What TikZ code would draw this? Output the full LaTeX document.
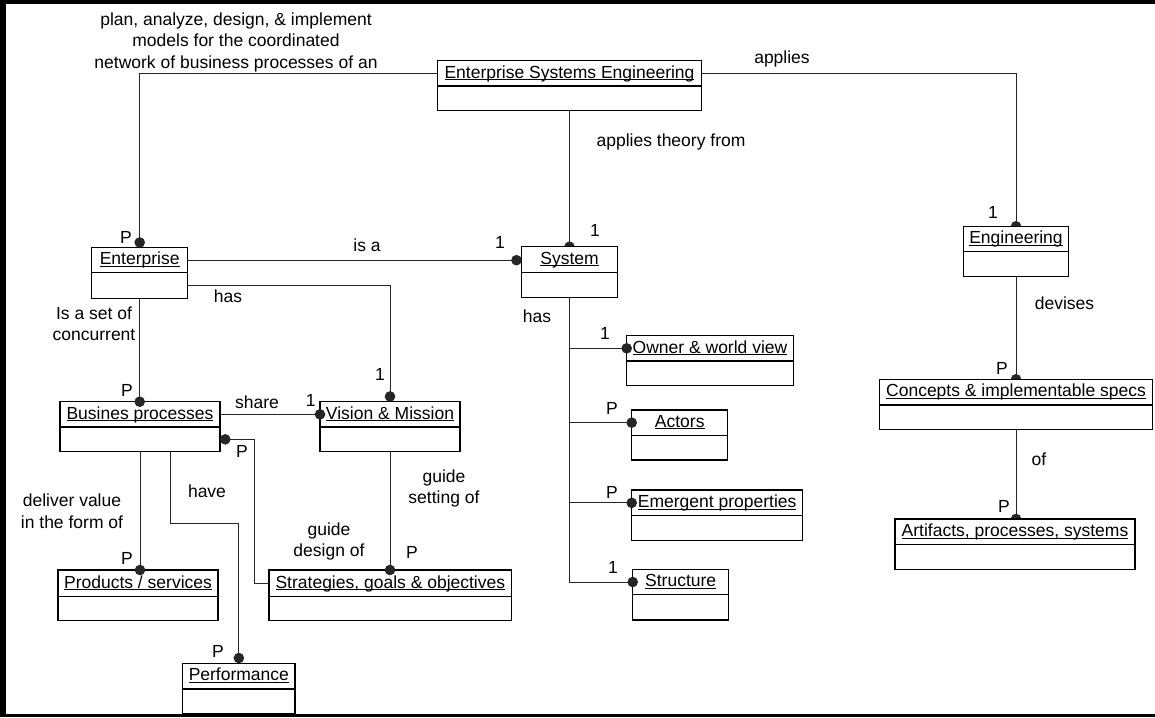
\documentclass[tikz,border=0pt]{standalone}
\usepackage{fontspec}
\setmainfont{Liberation Sans}
\usetikzlibrary{arrows.meta,calc}
\pgfdeclarelayer{bg}
\pgfsetlayers{bg,main}

% underline that crosses the descenders, as in UML object names
\newcommand{\titleul}[1]{\setbox0=\hbox{#1}\rlap{\rule[-2pt]{\wd0}{1.1pt}}\box0}

% class box: name, left, top, right, bottom, divider, title
\newcommand{\classbox}[7]{%
  \pgfmathsetmacro{\cbW}{#4-#2}%
  \pgfmathsetmacro{\cbH}{#5-#3}%
  \node[cbox, minimum width=\cbW pt, minimum height=\cbH pt] (#1) at ({(#2+#4)/2},{(#3+#5)/2}) {};
  \draw[cline] (#2,#6) -- (#4,#6);
  \coordinate (#1-r) at ({(#2+#4)/2},{(#3+#6)/2});
  \coordinate (#1-b) at ({(#2+#4)/2},{(#6+#5)/2});
  \node[ctitle] (#1-t) at ({(#2+#4)/2},{(#3+#6)/2-1.5}) {\titleul{#7}};
}

\tikzset{
  basefont/.style={font=\fontsize{17.5}{21.5}\selectfont},
  txt/.style={basefont, inner sep=0pt, outer sep=0pt, text height=12.5pt, text depth=0pt},
  cbox/.style={draw, fill=white, line width=1.3pt, inner sep=0pt, outer sep=0pt},
  cline/.style={line width=1.3pt},
  ctitle/.style={txt},
  lbl/.style={txt},
  lblm/.style={basefont, inner sep=0pt, outer sep=0pt, align=center},
  conn/.style={draw=black!85, line width=1pt},
  dotout/.style={conn, -{Circle[length=10.5pt,width=10.5pt]}},
  dotin/.style={dotout, shorten >=-5.25pt},
}

\begin{document}
\begin{tikzpicture}[x=1pt,y=-1pt]
\useasboundingbox (0,0) rectangle (1155,717);

% frame
\fill (0,0) rectangle (1155,4);
\fill (0,0) rectangle (6,717);
\fill (0,713.5) rectangle (1155,717);

% classes
\classbox{ese}{437.3}{60.7}{701.7}{110.7}{86}{Enterprise Systems Engineering}
\classbox{ent}{91.7}{247.7}{187.7}{298.3}{272.7}{Enterprise}
\classbox{sys}{521.7}{246.7}{617.3}{297.3}{272.3}{System}
\classbox{eng}{963.3}{226.3}{1068.7}{276.7}{251.7}{Engineering}
\classbox{con}{879.3}{379.3}{1152.7}{429.3}{405}{Concepts \& implementable specs}
\classbox{art}{895}{519}{1135}{569.3}{544.7}{Artifacts, processes, systems}
\classbox{own}{626.7}{335.7}{793.3}{385.7}{361}{Owner \& world view}
\classbox{act}{631.7}{410}{727.7}{460}{435.3}{Actors}
\classbox{emg}{631.7}{490}{802.7}{540.3}{515.7}{Emergent properties}
\classbox{stc}{632.7}{569.3}{728.7}{620}{594.7}{Structure}
\classbox{bp}{60}{401.7}{220}{451.7}{427}{Busines processes}
\classbox{vis}{320}{401.7}{460}{451.7}{427}{Vision \& Mission}
\classbox{prd}{58}{570}{218}{620.7}{596.7}{Products / services}
\classbox{str}{269}{570}{511.7}{620.7}{596.7}{Strategies, goals \& objectives}
\classbox{prf}{182.7}{663.3}{295}{713.3}{689}{Performance}

% associations whose end dot sits under the box
\begin{pgfonlayer}{bg}
\draw[dotin] (ese.east |- ese-r) -| (eng.north);
\draw[dotin] (ese.south) -- (ese.south |- sys.north);
\draw[dotin] (eng.south) -- (eng.south |- con.north);
\draw[dotin] (con.south) -- (con.south |- art.north);
\end{pgfonlayer}

% associations
\draw[dotout] (ese.west |- ese-r) -| (ent.north);
\draw[dotout] (ent.east |- ent-r) -- (sys.west |- ent-r);
\draw[dotout] (ent.east |- ent-b) -| (vis.north);
\draw[dotin] (ent.south) -- (ent.south |- bp.north);
\draw[dotin] (bp.east |- bp-r) -- (vis.west |- bp-r);
\draw[conn, {Circle[length=10.5pt,width=10.5pt]}-] (bp.east |- bp-b) -- ++(34,0) |- (str.west |- str-r);
\draw[dotin] (bp.south) -- (bp.south |- prd.north);
\draw[dotout] ($(bp.south)+(30.7,0)$) -- ++(0,72) -| (prf.north);
\draw[dotin] (vis.south) -- (vis.south |- str.north);
\draw[dotin] (sys.south) |- (own.west |- own-r);
\draw[dotin] (sys.south) |- (act.west |- act-r);
\draw[dotin] (sys.south) |- (emg.west |- emg-r);
\draw[dotin] (sys.south) |- (stc.west |- stc-r);

% association names
\node[lblm] (l1) at (236,42) {plan, analyze, design, \& implement\\models for the coordinated\\network of business processes of an};
\node[lbl] (l2) at (782,57) {applies};
\node[lbl] (l3) at (671,140) {applies theory from};
\node[lbl] (l4) at (367,245) {is a};
\node[lbl] (l5) at (228,296) {has};
\node[lblm] (l6) at (94,323.5) {Is a set of\\concurrent};
\node[lbl] (l7) at (257,402) {share};
\node[lblm] (l8) at (72,511) {deliver value\\in the form of};
\node[lbl] (l9) at (207,491) {have};
\node[lblm] (l10) at (329,541.5) {guide\\design of};
\node[lblm] (l11) at (444,488.5) {guide\\setting of};
\node[lbl] (l12) at (537,316) {has};
\node[lbl] (l13) at (1064.5,303) {devises};
\node[lbl] (l14) at (1039,459) {of};

% multiplicities
\node[lbl] (m1) at (126,237) {P};
\node[lbl] (m2) at (500,242) {1};
\node[lbl] (m3) at (595,230) {1};
\node[lbl] (m4) at (380,374) {1};
\node[lbl] (m5) at (127,390) {P};
\node[lbl] (m6) at (310.7,400) {1};
\node[lbl] (m7) at (242,451) {P};
\node[lbl] (m8) at (127,558) {P};
\node[lbl] (m9) at (412,552) {P};
\node[lbl] (m10) at (218,651) {P};
\node[lbl] (m11) at (605,333) {1};
\node[lbl] (m12) at (612,408) {P};
\node[lbl] (m13) at (612,492) {P};
\node[lbl] (m14) at (613,567) {1};
\node[lbl] (m15) at (993,212) {1};
\node[lbl] (m16) at (1002,368) {P};
\node[lbl] (m17) at (1004,506) {P};
\end{tikzpicture}
\end{document}
